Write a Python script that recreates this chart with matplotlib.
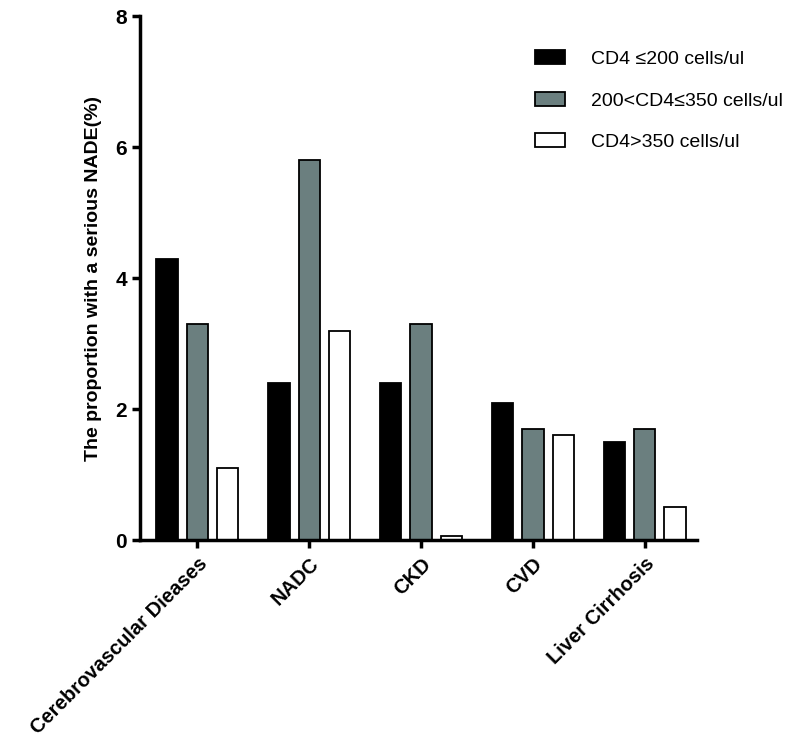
import matplotlib
matplotlib.use("Agg")
import matplotlib.pyplot as plt
import numpy as np

plt.rcParams['font.family'] = ['Liberation Sans', 'DejaVu Sans']

categories = ["Cerebrovascular Dieases", "NADC", "CKD", "CVD", "Liver Cirrhosis"]
series_names = ["CD4 \u2264200 cells/ul", "200<CD4\u2264350 cells/ul", "CD4>350 cells/ul"]
low = [4.3, 2.4, 2.4, 2.1, 1.5]
mid = [3.3, 5.8, 3.3, 1.7, 1.7]
high = [1.1, 3.2, 0.07, 1.6, 0.5]
yticks = [0, 2, 4, 6, 8]

colors = ["#000000", "#6b7f7f", "#ffffff"]

fig = plt.figure(figsize=(7.88, 7.4), dpi=100)
ax = fig.add_axes([0.178, 0.27, 0.707, 0.708])

x = np.arange(len(categories))
w = 0.19
off = 0.27
for i, (vals, c, name) in enumerate(zip([low, mid, high], colors, series_names)):
    ax.bar(x + (i - 1) * off, vals, width=w, color=c, edgecolor="black",
           linewidth=1.3, label=name)

ax.set_xlim(-0.51, 4.47)
ax.set_ylim(0, 8)
ax.set_yticks(yticks)
ax.set_yticklabels([str(t) for t in yticks], fontsize=15, fontweight="bold")
ax.set_xticks(x)
ax.set_xticklabels(categories, rotation=45, ha="right", rotation_mode="anchor",
                   fontsize=14.5, fontweight="bold")
ax.tick_params(axis="both", direction="out", width=2.5, length=6)
ax.tick_params(axis="x", pad=4)

for s in ["top", "right"]:
    ax.spines[s].set_visible(False)
for s in ["left", "bottom"]:
    ax.spines[s].set_linewidth(2.5)

ax.set_ylabel("The proportion with a serious NADE(%)", fontsize=14,
              fontweight="bold", labelpad=10)

leg = ax.legend(loc="upper left", bbox_to_anchor=(0.709, 0.935), frameon=False,
                fontsize=14, handlelength=1.55, handleheight=0.72,
                labelspacing=1.22, handletextpad=1.3, borderpad=0,
                borderaxespad=0)

fig.savefig("out.png", dpi=100)
